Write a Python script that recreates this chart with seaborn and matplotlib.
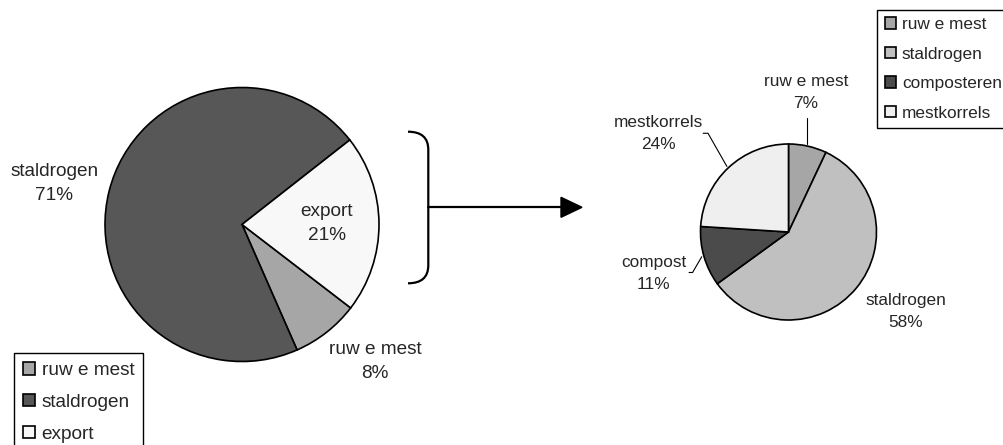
import numpy as np
import matplotlib
matplotlib.use('Agg')
import matplotlib.pyplot as plt
import seaborn as sns
from matplotlib.path import Path
from matplotlib.patches import PathPatch, Polygon

# Data: left pie (total manure use)
left_names = ['ruw e mest', 'staldrogen', 'export']
left_legend = ['ruw e mest', 'staldrogen', 'export']
left_values = [8, 71, 21]
left_colors = ['#a6a6a6', '#575757', '#f8f8f8']

# Data: right pie (breakdown of export)
right_names = ['ruw e mest', 'staldrogen', 'compost', 'mestkorrels']
right_legend = ['ruw e mest', 'staldrogen', 'composteren', 'mestkorrels']
right_values = [7, 58, 11, 24]
right_colors = ['#a6a6a6', '#c0c0c0', '#4b4b4b', '#efefef']

# Layout: label positions in radius units (x right, y up)
left_label_pos = [(0.97, -1.0), (-1.37, 0.30), (0.62, 0.01)]
right_label_pos = [(0.20, 1.585), (1.33, -0.905), (-1.53, -0.47), (-1.48, 1.12)]
# leader lines for the right pie, radius units
right_leaders = [
    [(0.207, 1.29), (0.207, 1.0)],
    None,
    [(-1.13, -0.46), (-1.09, -0.46), (-0.986, -0.281)],
    [(-0.97, 1.122), (-0.915, 1.122), (-0.70, 0.745)],
]

sns.set_style('white')
plt.rcParams['font.family'] = ['Liberation Sans', 'DejaVu Sans']
FS_L = 13.7
FS_R = 12.4

W, H = 1004, 445
fig = plt.figure(figsize=(W / 100, H / 100), dpi=100)

# overlay axes in pixel coordinates for the bracket and arrow
ov = fig.add_axes([0, 0, 1, 1])
ov.set_xlim(0, W)
ov.set_ylim(H, 0)
ov.axis('off')


def pie_axes(cx, cy, r):
    ax = fig.add_axes([(cx - r) / W, (H - cy - r) / H, 2 * r / W, 2 * r / H])
    ax.axis('off')
    return ax


def fix_limits(ax):
    ax.set_xlim(-1, 1)
    ax.set_ylim(-1, 1)
    ax.set_aspect('equal')


wedge_style = dict(edgecolor='black', linewidth=1.2)

# left pie
ax1 = pie_axes(242, 224.5, 137)
w1, _ = ax1.pie(left_values, colors=left_colors, startangle=-37.5,
                counterclock=False, radius=1, wedgeprops=wedge_style)
fix_limits(ax1)
for name, val, (lx, ly) in zip(left_names, left_values, left_label_pos):
    ax1.text(lx, ly, f'{name}\n{val}%', ha='center', va='center',
             fontsize=FS_L, linespacing=1.55, clip_on=False)

# right pie
ax2 = pie_axes(788.5, 232, 88)
w2, _ = ax2.pie(right_values, colors=right_colors, startangle=90,
                counterclock=False, radius=1, wedgeprops=wedge_style)
fix_limits(ax2)
for name, val, (lx, ly), lead in zip(right_names, right_values, right_label_pos, right_leaders):
    ax2.text(lx, ly, f'{name}\n{val}%', ha='center', va='center',
             fontsize=FS_R, linespacing=1.58, clip_on=False)
    if lead:
        xs, ys = zip(*lead)
        ax2.plot(xs, ys, color='black', lw=0.8, clip_on=False)

# bracket
bx0, bx1, by0, by1, rc = 408, 428.3, 131.7, 283.3, 18
verts = [(bx0, by0), (bx1, by0), (bx1, by0 + rc),
         (bx1, by1 - rc), (bx1, by1), (bx0, by1)]
codes = [Path.MOVETO, Path.CURVE3, Path.CURVE3, Path.LINETO, Path.CURVE3, Path.CURVE3]
ov.add_patch(PathPatch(Path(verts, codes), fill=False, lw=1.6, edgecolor='black'))

# arrow
ay = 207.3
ov.plot([bx1, 562], [ay, ay], color='black', lw=1.6)
ov.add_patch(Polygon([(561, ay - 10), (582, ay), (561, ay + 10)], closed=True,
                     facecolor='black', edgecolor='black'))

leg_style = dict(loc='upper left', frameon=True, fancybox=False,
                 framealpha=1, edgecolor='black', handlelength=0.65,
                 handleheight=0.65, handletextpad=0.35, borderpad=0.45,
                 borderaxespad=0)

leg1 = fig.legend(w1, left_legend, bbox_to_anchor=(14 / W, 1 - 353.3 / H),
                  fontsize=FS_L, labelspacing=0.78, **leg_style)
leg2 = fig.legend(w2, right_legend, bbox_to_anchor=(877 / W, 1 - 9.5 / H),
                  fontsize=FS_R, labelspacing=0.84, **leg_style)
for leg in (leg1, leg2):
    leg.get_frame().set_linewidth(1.0)

fig.savefig('out.png', dpi=100)
